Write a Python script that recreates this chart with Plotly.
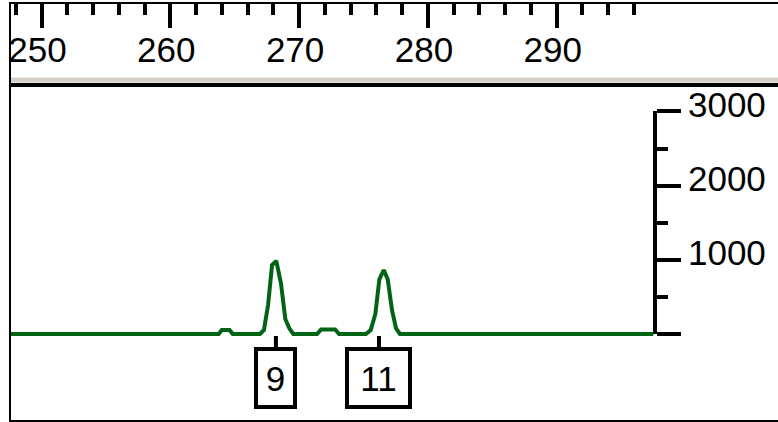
import plotly.graph_objects as go

# ---- data ----
size_bp = [247.6, 263.75, 264.0, 264.6, 264.85,
           266.96, 267.27, 267.59, 267.90, 268.23, 268.59, 268.93, 269.24, 269.55,
           271.4, 271.7, 272.8, 273.1,
           275.19, 275.56, 275.92, 276.23, 276.57, 276.88, 277.21, 277.52, 277.83,
           297.5]
signal = [0, 0, 55, 55, 0,
          0, 54, 391, 930, 984, 684, 202, 77, 0,
          0, 60, 60, 0,
          0, 54, 270, 737, 863, 737, 324, 77, 0,
          0]

x_major = [250, 260, 270, 280, 290]
x_major_text = ["250", "260", "270", "280", "290"]
x_minor = list(range(248, 297, 2))

y_major = [0, 1000, 2000, 3000]
y_major_text = ["", "1000", "2000", "3000"]
y_minor = [500, 1500, 2500]

allele_pos = [268.2, 276.2]
allele_lbl = ["9", "11"]
allele_box_w = [35, 59]

FONT = "Liberation Sans, Arial, sans-serif"
FS = 35
GREEN = "#006414"

fig = go.Figure()
fig.add_trace(go.Scatter(x=size_bp, y=signal, mode="lines",
                         line=dict(color=GREEN, width=4),
                         hoverinfo="skip", showlegend=False))
fig.add_trace(go.Scatter(x=[None], y=[None], yaxis="y2", mode="lines",
                         hoverinfo="skip", showlegend=False))

for pos, lbl, w in zip(allele_pos, allele_lbl, allele_box_w):
    fig.add_annotation(x=pos, y=0, xref="x", yref="y", text=lbl,
                       showarrow=True, arrowhead=0, arrowwidth=4, arrowcolor="black",
                       ax=0, ay=44, standoff=2,
                       bordercolor="black", borderwidth=4, borderpad=0,
                       bgcolor="white", width=w, height=54,
                       font=dict(family=FONT, size=FS, color="black"))

fig.update_layout(
    width=778, height=422,
    margin=dict(l=11, r=0, t=4, b=2, pad=0, autoexpand=False),
    paper_bgcolor="white", plot_bgcolor="rgba(0,0,0,0)",
    showlegend=False,
    xaxis=dict(range=[247.632, 307.18], side="top", automargin=False,
               showline=True, linecolor="black", linewidth=2, mirror=True,
               ticks="inside", ticklen=24, tickwidth=4, tickcolor="black",
               tickmode="array", tickvals=x_major, ticktext=x_major_text,
               ticklabelposition="inside", ticklabeloverflow="allow",
               ticklabelshift=-4, ticklabelstandoff=13,
               tickfont=dict(family=FONT, size=FS, color="black"),
               minor=dict(tickmode="array", tickvals=x_minor, ticks="inside",
                          ticklen=11, tickwidth=4, tickcolor="black", showgrid=False),
               showgrid=False, zeroline=False, fixedrange=True),
    yaxis=dict(range=[-1159.5, 4449.2], domain=[0, 1], automargin=False,
               showline=True, linecolor="black", linewidth=2,
               ticks="", showticklabels=False, showgrid=False, zeroline=False,
               fixedrange=True),
    yaxis2=dict(range=[0, 3000], domain=[0.2067, 0.7416], automargin=False,
                anchor="free", position=0.8396, side="right",
                showline=True, linecolor="black", linewidth=4,
                ticks="outside", ticklen=24, tickwidth=4, tickcolor="black",
                tickmode="array", tickvals=y_major, ticktext=y_major_text,
                ticklabelshift=-7,
                tickfont=dict(family=FONT, size=FS, color="black"),
                minor=dict(tickmode="array", tickvals=y_minor, ticks="outside",
                           ticklen=11, tickwidth=4, tickcolor="black", showgrid=False),
                showgrid=False, zeroline=False, fixedrange=True),
    shapes=[
        dict(type="rect", xref="paper", yref="paper", x0=0, x1=1,
             y0=0.8113, y1=0.8233, fillcolor="#d4d0c8", line=dict(width=0)),
        dict(type="rect", xref="paper", yref="paper", x0=0, x1=1,
             y0=0.8005, y1=0.8101, fillcolor="black", line=dict(width=0)),
    ],
)

fig.write_html("out.html", config={"displayModeBar": False},
               post_script="document.body.style.margin='0px';"
                           "document.body.style.overflow='hidden';")
